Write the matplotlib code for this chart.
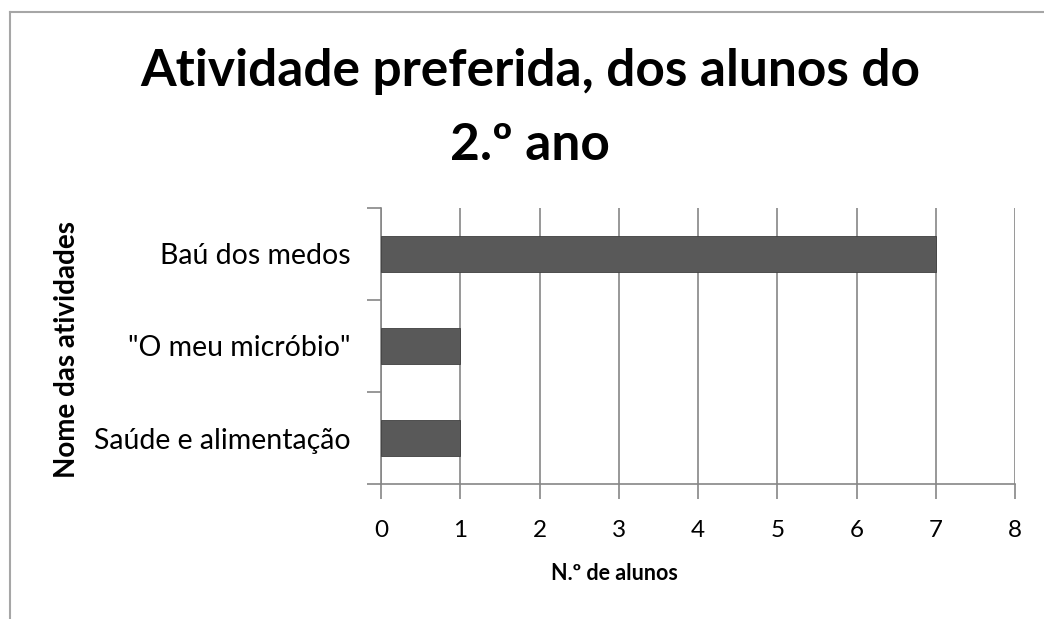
"""
Horizontal bar chart: preferred activity of 2nd-year pupils.
"""

import matplotlib.pyplot as plt
from matplotlib.lines import Line2D

atividades = ["Saúde e alimentação", '"O meu micróbio"', "Baú dos medos"]
alunos = [1, 1, 7]
x_ticks = [0, 1, 2, 3, 4, 5, 6, 7, 8]

titulo = "Atividade preferida, dos alunos do\n2.º ano"
eixo_x = "N.º de alunos"
eixo_y = "Nome das atividades"

BAR = "#595959"
GRID = "#868686"
FONT = ["Lato", "DejaVu Sans"]

plt.rcParams["font.family"] = FONT

fig = plt.figure(figsize=(10.44, 6.19), dpi=100)
ax = fig.add_axes([381 / 1044, 1 - 484 / 619, (1015 - 381) / 1044, (484 - 208) / 619])

pos = list(range(len(atividades)))
ax.barh(pos, alunos, height=0.4, color=BAR, edgecolor="#3f3f3f", linewidth=0.6, zorder=3)

ax.set_xlim(0, 8)
ax.set_ylim(-0.5, len(atividades) - 0.5)
ax.set_xticks(x_ticks)
ax.set_xticklabels([str(v) for v in x_ticks], fontsize=17.5)

# category ticks sit between the bars, labels in the middle
ax.set_yticks([p - 0.5 for p in pos] + [len(atividades) - 0.5])
ax.set_yticklabels([])
ax.set_yticks(pos, minor=True)
ax.set_yticklabels(atividades, minor=True, fontsize=20.5)
ax.tick_params(axis="y", which="minor", length=0, pad=22)
ax.tick_params(axis="y", which="major", length=10, width=1.2, color=GRID)
ax.tick_params(axis="x", length=11, width=1.2, color=GRID, pad=15)

ax.grid(axis="x", color=GRID, linewidth=1.2, zorder=0)
for side in ("top", "right"):
    ax.spines[side].set_visible(False)
for side in ("left", "bottom"):
    ax.spines[side].set_color(GRID)
    ax.spines[side].set_linewidth(1.2)

fig.text(530 / 1044, 1 - 48 / 619, titulo, ha="center", va="top",
         fontsize=37, fontweight="bold", linespacing=1.7)
fig.text(614 / 1044, 1 - 574 / 619, eixo_x, ha="center", va="center",
         fontsize=15.5, fontweight="bold")
fig.text(67 / 1044, 1 - 349 / 619, eixo_y, ha="center", va="center",
         rotation=90, fontsize=20, fontweight="bold")

# chart border (top and left edges visible)
fig.add_artist(Line2D([10 / 1044, 1], [1 - 12 / 619] * 2, color="#a6a6a6", lw=1.5))
fig.add_artist(Line2D([10 / 1044] * 2, [0, 1 - 12 / 619], color="#a6a6a6", lw=1.5))

fig.savefig("out.png", dpi=100)
